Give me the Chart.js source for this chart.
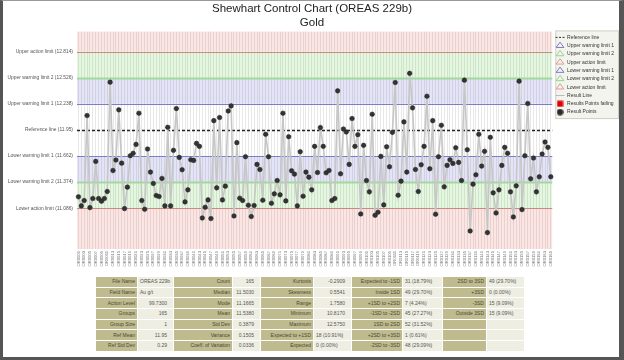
<!DOCTYPE html>
<html lang="en">
<head>
<meta charset="UTF-8">
<title>Shewhart Control Chart</title>
<script src="https://cdn.jsdelivr.net/npm/chart.js"></script>
<style>
    html, body { margin: 0; padding: 0; background: #fff; }
    #page { position: relative; width: 624px; height: 360px; overflow: hidden; font-family: "Liberation Sans", Arial, sans-serif; }
    #chartBox { position: absolute; left: 0; top: 0; width: 624px; height: 272px; }
    #frame { position: absolute; left: 0; top: 0; width: 624px; height: 360px; box-sizing: border-box;
             border-left: 3px solid #555; border-right: 5px solid #555; border-bottom: 3px solid #555; border-top: 1px solid #999;
             pointer-events: none; }
    #stats { position: absolute; left: 95px; top: 276px; width: 430px; border-collapse: collapse; table-layout: fixed; font-size: 5px; }
    #stats td { height: 9.7px; padding: 0 2px; border: 1px solid #fff; white-space: nowrap; overflow: hidden; line-height: 9px; }
    #stats td.lbl { background: #bfbb8f; color: #4a4830; text-align: right; }
    #stats td.val { background: #efeee2; color: #555; text-align: left; }
    #stats td.num { text-align: right; padding-right: 6px; }
</style>
</head>
<body>
<div id="page">
    <div id="chartBox"><canvas id="controlChart"></canvas></div>
    <table id="stats"></table>
    <div id="frame"></div>
</div>
<script>
    // result values (Au g/t), one per group
    const results = [
        11.212, 11.112, 11.171, 12.109, 11.093, 11.193, 11.603, 11.193, 11.164, 11.193,
        11.271, 12.478, 11.503, 11.618, 12.172, 11.584, 11.082, 11.319, 11.666, 11.692,
        11.791, 12.135, 11.171, 11.075, 11.740, 11.485, 11.359, 11.226, 11.215, 11.415,
        11.112, 11.980, 11.112, 11.725, 12.186, 11.647, 11.511, 11.156, 11.289, 11.621,
        11.614, 11.802, 11.769, 10.979, 11.097, 11.178, 10.972, 12.053, 11.311, 12.087,
        11.178, 11.330, 12.160, 12.216, 11.001, 11.810, 11.197, 11.171, 11.655, 11.119,
        10.994, 11.116, 11.570, 11.514, 11.175, 11.902, 11.655, 11.141, 11.245, 11.392,
        11.234, 12.135, 11.167, 11.876, 11.500, 11.463, 11.112, 11.710, 11.219, 11.485,
        11.429, 11.289, 11.769, 11.481, 11.976, 11.769, 11.477, 11.503, 11.171, 11.193,
        12.382, 11.466, 11.961, 11.928, 11.570, 12.076, 11.769, 11.898, 11.023, 11.780,
        11.392, 11.267, 12.124, 11.008, 11.042, 11.658, 11.123, 11.765, 11.544, 11.924,
        12.474, 11.230, 11.385, 12.039, 11.485, 12.575, 12.194, 11.514, 11.271, 11.566,
        11.769, 12.323, 11.522, 12.053, 11.020, 11.655, 12.002, 11.322, 11.559, 11.621,
        11.581, 11.754, 11.592, 11.392, 12.500, 11.732, 10.835, 11.352, 11.455, 11.902,
        11.551, 11.714, 10.817, 11.869, 11.256, 11.034, 11.289, 11.559, 11.758, 11.692,
        11.267, 10.990, 11.333, 12.489, 11.071, 11.666, 12.242, 11.411, 11.640, 11.267,
        11.433, 11.684, 11.817, 11.758, 11.433
    ];

    // sample ids along the x axis
    const sampleIds = [];
    for (let i = 0; i < results.length; i++) {
        sampleIds.push('OR' + String(i + 1).padStart(4, '0'));
    }

    // control limits, top to bottom
    const limitNames = ['Upper action limit', 'Upper warning limit 2', 'Upper warning limit 1', 'Reference line',
        'Lower warning limit 1', 'Lower warning limit 2', 'Lower action limit'];
    const limitValues = [12.814, 12.526, 12.238, 11.95, 11.662, 11.374, 11.086];

    const legendNames = ['Reference line', 'Upper warning limit 1', 'Upper warning limit 2', 'Upper action limit',
        'Lower warning limit 1', 'Lower warning limit 2', 'Lower action limit', 'Result Line',
        'Results Points failing', 'Result Points'];

    // statistics table, column pairs
    const statsLabels1 = ['File Name', 'Field Name', 'Action Level', 'Groups', 'Group Size', 'Ref Mean', 'Ref Std Dev'];
    const statsValues1 = ['OREAS 229b', 'Au g/t', '99.7300', '165', '1', '11.95', '0.29'];
    const statsLabels2 = ['Count', 'Median', 'Mode', 'Mean', 'Std Dev', 'Variance', 'Coeff. of Variation'];
    const statsValues2 = ['165', '11.5030', '11.1665', '11.5380', '0.3879', '0.1505', '0.0336'];
    const statsLabels3 = ['Kurtosis', 'Skewness', 'Range', 'Minimum', 'Maximum', 'Expected to +1SD', 'Expected'];
    const statsValues3 = ['-0.2909', '0.5541', '1.7580', '10.8170', '12.5750', '18 (10.91%)', '0 (0.00%)'];
    const statsLabels4 = ['Expected to -1SD', 'Inside 1SD', '+1SD to +2SD', '-1SD to -2SD', '1SD to 2SD', '+2SD to +3SD', '-2SD to -3SD'];
    const statsValues4 = ['31 (18.79%)', '49 (29.70%)', '7 (4.24%)', '45 (27.27%)', '52 (31.52%)', '1 (0.61%)', '48 (29.09%)'];
    const statsLabels5 = ['2SD to 3SD', '+3SD', '-3SD', 'Outside 3SD', '', '', ''];
    const statsValues5 = ['49 (29.70%)', '0 (0.00%)', '15 (9.09%)', '15 (9.09%)', '', '', ''];

    // build the table
    const colWidths = [42, 36, 59, 28, 53, 38, 51, 40, 44, 38];
    const table = document.getElementById('stats');
    const cg = document.createElement('colgroup');
    colWidths.forEach(w => { const c = document.createElement('col'); c.style.width = w + 'px'; cg.appendChild(c); });
    table.appendChild(cg);
    const pairs = [[statsLabels1, statsValues1], [statsLabels2, statsValues2], [statsLabels3, statsValues3],
        [statsLabels4, statsValues4], [statsLabels5, statsValues5]];
    for (let r = 0; r < 7; r++) {
        const tr = document.createElement('tr');
        pairs.forEach(p => {
            const l = document.createElement('td');
            l.className = 'lbl';
            l.textContent = p[0][r];
            const v = document.createElement('td');
            v.className = /^-?[\d.]+$/.test(p[1][r]) ? 'val num' : 'val';
            v.textContent = p[1][r];
            tr.appendChild(l);
            tr.appendChild(v);
        });
        table.appendChild(tr);
    }

    // coloured zones behind the plot + limit lines
    const zonesPlugin = {
        id: 'zones',
        beforeDraw(chart) {
            const { ctx, chartArea: a, scales: { y } } = chart;
            const edges = [y.max].concat(limitValues, [y.min]);
            const fills = ['#fde5e4', '#e4f8df', '#e4e4f8', '#ffffff', '#ffffff', '#e4e4f8', '#e4f8df', '#fde5e4'];
            ctx.save();
            for (let i = 0; i < fills.length; i++) {
                const y1 = y.getPixelForValue(edges[i]);
                const y2 = y.getPixelForValue(edges[i + 1]);
                ctx.fillStyle = fills[i];
                ctx.fillRect(a.left, y1, a.right - a.left, y2 - y1);
            }
            ctx.restore();
        },
        beforeDatasetsDraw(chart) {
            const { ctx, chartArea: a, scales: { y } } = chart;
            const colors = ['#c98a80', '#a2d99c', '#7c7cc8', '#222222', '#7c7cc8', '#a2d99c', '#c98a80'];
            const widths = [1, 2, 1.2, 1.3, 1.2, 2, 1];
            ctx.save();
            limitValues.forEach((v, i) => {
                const py = Math.round(y.getPixelForValue(v)) + 0.5;
                ctx.beginPath();
                ctx.strokeStyle = colors[i];
                ctx.lineWidth = widths[i];
                ctx.setLineDash(i === 3 ? [3, 2] : []);
                ctx.moveTo(a.left, py);
                ctx.lineTo(a.right, py);
                ctx.stroke();
            });
            ctx.restore();
        }
    };

    // grey box behind the legend
    const legendBoxPlugin = {
        id: 'legendBox',
        beforeDraw(chart) {
            const lg = chart.legend;
            if (!lg || !lg.legendHitBoxes.length) return;
            const hb = lg.legendHitBoxes;
            const last = hb[hb.length - 1];
            const ctx = chart.ctx;
            const top = hb[0].top - 4;
            const bottom = last.top + last.height + 4;
            ctx.save();
            ctx.fillStyle = '#f4f4ef';
            ctx.strokeStyle = '#cfcfc6';
            ctx.lineWidth = 1;
            ctx.fillRect(lg.left + 3.5, top, lg.right - lg.left - 9, bottom - top);
            ctx.strokeRect(lg.left + 3.5, top, lg.right - lg.left - 9, bottom - top);
            ctx.restore();
        }
    };

    function iconCanvas(kind) {
        const c = document.createElement('canvas');
        c.width = 7; c.height = 7;
        const g = c.getContext('2d');
        if (kind === 'circle') {
            g.fillStyle = '#2a2a2a';
            g.beginPath(); g.arc(3.5, 3.5, 3.2, 0, Math.PI * 2); g.fill();
        } else {
            g.fillStyle = '#e00000';
            g.fillRect(0.5, 0.5, 6, 6);
        }
        return c;
    }

    const legendStyles = [
        { pointStyle: 'line', strokeStyle: '#333', lineDash: [2, 1.5], lineWidth: 1 },
        { pointStyle: 'triangle', strokeStyle: '#7c7cc8', lineWidth: 1 },
        { pointStyle: 'triangle', strokeStyle: '#8fd68a', lineWidth: 1 },
        { pointStyle: 'triangle', strokeStyle: '#e39a94', lineWidth: 1 },
        { pointStyle: 'triangle', strokeStyle: '#7c7cc8', lineWidth: 1 },
        { pointStyle: 'triangle', strokeStyle: '#8fd68a', lineWidth: 1 },
        { pointStyle: 'triangle', strokeStyle: '#e39a94', lineWidth: 1 },
        { pointStyle: 'line', strokeStyle: '#bbbbbb', lineWidth: 1 },
        { pointStyle: iconCanvas('rect'), strokeStyle: '#e00000', lineWidth: 0 },
        { pointStyle: iconCanvas('circle'), strokeStyle: '#2a2a2a', lineWidth: 0 }
    ];

    new Chart(document.getElementById('controlChart'), {
        type: 'line',
        data: {
            labels: sampleIds,
            datasets: [{
                label: 'Result Points',
                data: results,
                borderColor: '#c6c6c6',
                borderWidth: 1.6,
                pointRadius: 2.3,
                pointBackgroundColor: '#333333',
                pointBorderColor: '#222222',
                pointBorderWidth: 0.5,
                tension: 0
            }]
        },
        options: {
            responsive: true,
            maintainAspectRatio: false,
            animation: false,
            layout: { padding: 0 },
            plugins: {
                title: {
                    display: true,
                    text: ['Shewhart Control Chart (OREAS 229b)', 'Gold'],
                    color: '#222',
                    font: { family: 'Liberation Sans', size: 11.5, weight: 'normal', lineHeight: 1.2 },
                    padding: { top: 2, bottom: 2 }
                },
                legend: {
                    position: 'right',
                    align: 'start',
                    fullSize: false,
                    labels: {
                        usePointStyle: true,
                        pointStyleWidth: 9,
                        color: '#333',
                        font: { family: 'Liberation Sans', size: 5 },
                        padding: 3.3,
                        generateLabels: () => legendNames.map((name, i) => Object.assign({
                            text: name,
                            fillStyle: 'rgba(0,0,0,0)',
                            hidden: false,
                            fontColor: '#333'
                        }, legendStyles[i]))
                    }
                },
                tooltip: { enabled: false }
            },
            scales: {
                x: {
                    offset: true,
                    border: { display: false },
                    grid: { color: 'rgba(110,110,110,0.16)', lineWidth: 1, drawTicks: false },
                    ticks: {
                        autoSkip: false,
                        maxRotation: 90,
                        minRotation: 90,
                        padding: 2,
                        color: '#777',
                        font: { family: 'Liberation Sans', size: 4.2 },
                        callback: function (val, index) { return index % 2 === 0 ? this.getLabelForValue(val) : ''; }
                    },
                    afterFit: scale => { scale.height = 23; }
                },
                y: {
                    min: 10.636,
                    max: 13.036,
                    border: { display: false },
                    grid: { display: false, drawTicks: false },
                    afterBuildTicks: scale => { scale.ticks = limitValues.map(v => ({ value: v })); },
                    ticks: {
                        padding: 4,
                        color: '#555',
                        font: { family: 'Liberation Sans', size: 4.9 },
                        callback: v => {
                            const i = limitValues.indexOf(v);
                            return i >= 0 ? limitNames[i] + ' (' + v + ')' : '';
                        }
                    },
                    afterFit: scale => { scale.width = 77; }
                }
            }
        },
        plugins: [zonesPlugin, legendBoxPlugin]
    });
</script>
</body>
</html>
